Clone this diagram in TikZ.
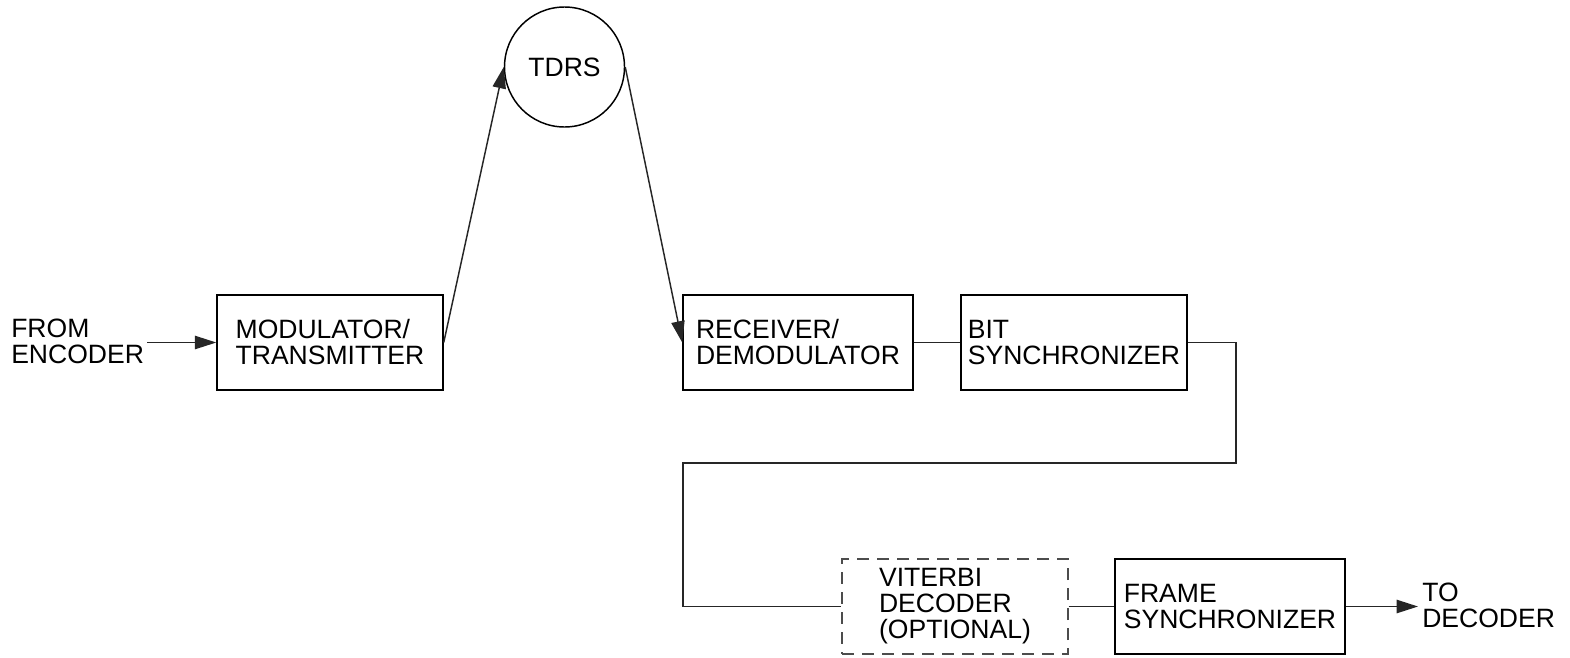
\documentclass[tikz,border=0pt]{standalone}
\usepackage{fontspec}
\setmainfont{Liberation Sans}
\usetikzlibrary{arrows.meta}
\begin{document}
\begin{tikzpicture}[x=0.75pt,y=-0.75pt,
  every node/.style={font=\fontsize{19.9}{19.5}\selectfont, inner sep=0pt},
  blk/.style={draw=black, line width=1.1pt, rectangle, align=left, minimum height=71.25pt},
  optblk/.style={blk, draw=black!70, dash pattern=on 9pt off 6pt},
  sat/.style={draw=black, line width=1.1pt, circle, minimum size=90pt},
  conn/.style={line width=1.1pt, draw=black!85},
  arr/.style={conn, -{Triangle[length=16pt,width=10pt]}}
]
\useasboundingbox (0,0) rectangle (1570,657);
% blocks
\node[blk, minimum width=169.5pt] (mod) at (330,342.5) {MODULATOR/\\TRANSMITTER};
\node[sat] (tdrs) at (564.5,67) {TDRS};
\node[blk, minimum width=172.5pt] (rec) at (798,342.5) {RECEIVER/\\DEMODULATOR};
\node[blk, minimum width=169.5pt] (bit) at (1074,342.5) {BIT\\SYNCHRONIZER};
\node[optblk, minimum width=169.5pt] (vit) at (955,606.5) {VITERBI\\DECODER\\(OPTIONAL)};
\node[blk, minimum width=172.5pt] (frm) at (1230,606.5) {FRAME\\SYNCHRONIZER};
% external labels
\node[align=left, anchor=base west] (src) at (11,363) {FROM\\ENCODER};
\node[align=left, anchor=base west] (dst) at (1422,627) {TO\\DECODER};
\coordinate (srcend) at (147,342.5);
\coordinate (dstend) at (1418,606.5);
\coordinate (c1) at (1236,342.5);
\coordinate (c2) at (1236,463);
\coordinate (c3) at (683,463);
\coordinate (c4) at (683,606.5);
% connectors
\draw[arr] (srcend) -- (mod.west);
\draw[arr] (mod.east) -- (tdrs.west);
\draw[arr] (tdrs.east) -- (rec.west);
\draw[conn] (rec.east) -- (bit.west);
\draw[conn] (bit.east) -- (c1) -- (c2) -- (c3) -- (c4) -- (vit.west);
\draw[conn] (vit.east) -- (frm.west);
\draw[arr] (frm.east) -- (dstend);
\end{tikzpicture}
\end{document}
